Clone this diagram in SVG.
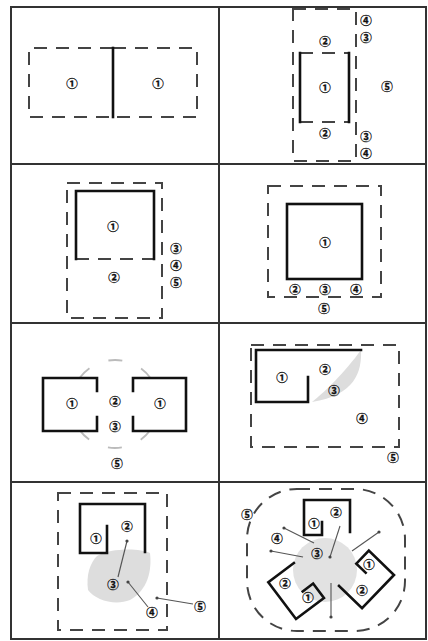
<svg xmlns="http://www.w3.org/2000/svg" width="428" height="641" viewBox="0 0 428 641">
<defs>
<style>
.grid{fill:none;stroke:#333;stroke-width:2}
.dash{fill:none;stroke:#444;stroke-width:2;stroke-dasharray:13 9}
.wall{fill:none;stroke:#111;stroke-width:2.6;stroke-linecap:square}
.wallw{fill:#fff;stroke:#111;stroke-width:2.6;stroke-linecap:square}
.lead{fill:none;stroke:#555;stroke-width:1.1}
.shade{fill:#ddd;stroke:none}
.n{font-family:"Noto Sans CJK JP","DejaVu Sans",sans-serif;font-size:11.5px;font-weight:bold;fill:#111;stroke:#111;stroke-width:0.3;text-anchor:middle;dominant-baseline:central}
</style>
<marker id="dot" viewBox="0 0 4 4" refX="2" refY="2" markerWidth="4" markerHeight="4" markerUnits="userSpaceOnUse"><circle cx="2" cy="2" r="1.6" fill="#444"/></marker>
</defs>
<rect width="428" height="641" fill="#fff"/>
<g id="grid">
<rect class="grid" x="11" y="7" width="415" height="632"/>
<line class="grid" x1="219" y1="7" x2="219" y2="639"/>
<line class="grid" x1="11" y1="164" x2="426" y2="164"/>
<line class="grid" x1="11" y1="323" x2="426" y2="323"/>
<line class="grid" x1="11" y1="482" x2="426" y2="482"/>
</g>
<g id="cell1">
<path class="dash" d="M113,48 H29 V117 H113 M113,48 H197 V117 H113"/>
<line class="wall" x1="113" y1="48" x2="113" y2="117"/>
<text class="n" x="72" y="83">①</text>
<text class="n" x="158" y="83">①</text>
</g>
<g id="cell2">
<rect class="dash" x="293" y="9" width="63" height="152"/>
<path class="dash" d="M300,53 H349 M300,122 H349"/>
<path class="wall" d="M300,53 V122 M349,53 V122"/>
<text class="n" x="325" y="41">②</text>
<text class="n" x="325" y="87">①</text>
<text class="n" x="325" y="133">②</text>
<text class="n" x="366" y="20">④</text>
<text class="n" x="366" y="37">③</text>
<text class="n" x="387" y="86">⑤</text>
<text class="n" x="366" y="136">③</text>
<text class="n" x="366" y="153">④</text>
</g>
<g id="cell3">
<rect class="dash" x="67" y="183" width="95" height="135"/>
<path class="dash" d="M76,259 H154"/>
<path class="wall" d="M76,259 V191 H154 V259"/>
<text class="n" x="113" y="226">①</text>
<text class="n" x="114" y="277">②</text>
<text class="n" x="176" y="248">③</text>
<text class="n" x="176" y="265">④</text>
<text class="n" x="176" y="282">⑤</text>
</g>
<g id="cell4">
<rect class="dash" x="268" y="186" width="113" height="111"/>
<rect class="wallw" x="287" y="204" width="75" height="75"/>
<text class="n" x="325" y="242">①</text>
<text class="n" x="295" y="289">②</text>
<text class="n" x="325" y="289">③</text>
<text class="n" x="356" y="289">④</text>
<text class="n" x="324" y="308">⑤</text>
</g>
<g id="cell5">
<circle cx="115" cy="404" r="44" fill="none" stroke="#bbb" stroke-width="1.8" stroke-dasharray="14 20.56" stroke-dashoffset="7"/>
<rect x="43" y="378" width="54" height="53" fill="#fff"/>
<rect x="133" y="378" width="53" height="53" fill="#fff"/>
<path class="wall" d="M97,391 V378 H43 V431 H97 V417"/>
<path class="wall" d="M133,391 V378 H186 V431 H133 V417"/>
<text class="n" x="72" y="403">①</text>
<text class="n" x="160" y="403">①</text>
<text class="n" x="115" y="401">②</text>
<text class="n" x="115" y="426">③</text>
<text class="n" x="117" y="463">⑤</text>
</g>
<g id="cell6">
<rect class="dash" x="251" y="345" width="148" height="102"/>
<path class="shade" d="M361,350 C362,372 355,395 312,402 C325,392 345,372 361,350 Z"/>
<path class="wall" d="M361,350 H256 V402 H308 V377"/>
<text class="n" x="282" y="377">①</text>
<text class="n" x="325" y="369">②</text>
<text class="n" x="334" y="390">③</text>
<text class="n" x="362" y="418">④</text>
<text class="n" x="393" y="457">⑤</text>
</g>
<g id="cell7">
<rect class="dash" x="58" y="493" width="109" height="137"/>
<path class="shade" d="M97,556 C110,548 140,548 150,553 C152,570 148,590 130,600 C115,606 95,600 88,590 C86,575 90,563 97,556 Z"/>
<path class="wall" d="M145,552 V504 H80 V553 H107 V526"/>
<line class="lead" x1="118" y1="577" x2="127" y2="541" marker-end="url(#dot)"/>
<line class="lead" x1="148" y1="607" x2="128" y2="582" marker-end="url(#dot)"/>
<line class="lead" x1="193" y1="604" x2="157" y2="598" marker-end="url(#dot)"/>
<text class="n" x="96" y="538">①</text>
<text class="n" x="127" y="526">②</text>
<text class="n" x="113" y="584">③</text>
<text class="n" x="152" y="612">④</text>
<text class="n" x="200" y="606">⑤</text>
</g>
<g id="cell8">
<rect class="dash" x="247" y="489" width="158" height="142" rx="50" ry="50"/>
<circle cx="325" cy="570" r="32" fill="#e2e2e2"/>
<path class="wall" transform="translate(304,500)" d="M46,32 V0 H0 V35 H18 V22"/>
<path class="wall" transform="translate(296,619) rotate(-127)" d="M46,32 V0 H0 V35 H18 V22"/>
<path class="wall" transform="translate(394,575) rotate(134)" d="M46,32 V0 H0 V35 H18 V22"/>
<line class="lead" x1="314" y1="543" x2="284" y2="528" marker-end="url(#dot)"/>
<line class="lead" x1="303" y1="557" x2="271" y2="551" marker-end="url(#dot)"/>
<line class="lead" x1="340" y1="526" x2="330" y2="557" marker-end="url(#dot)"/>
<line class="lead" x1="352" y1="551" x2="379" y2="532" marker-end="url(#dot)"/>
<line class="lead" x1="331" y1="583" x2="331" y2="617" marker-end="url(#dot)"/>
<text class="n" x="247" y="514">⑤</text>
<text class="n" x="314" y="523">①</text>
<text class="n" x="336" y="512">②</text>
<text class="n" x="277" y="538">④</text>
<text class="n" x="317" y="553">③</text>
<text class="n" x="285" y="583">②</text>
<text class="n" x="308" y="597">①</text>
<text class="n" x="369" y="564">①</text>
<text class="n" x="362" y="590">②</text>
</g>
</svg>
